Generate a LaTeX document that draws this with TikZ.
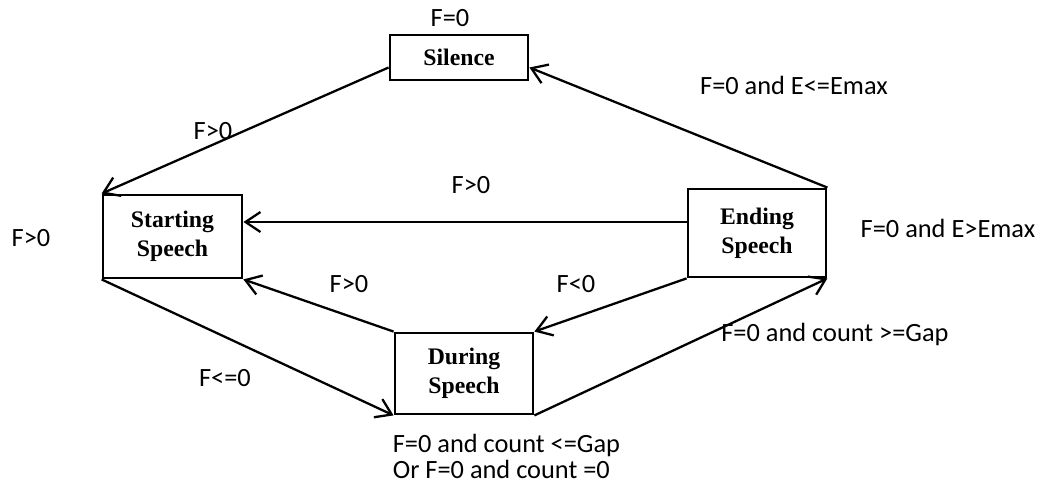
\documentclass[tikz,border=0pt]{standalone}
\usepackage{fontspec}
\setmainfont{Carlito}
\newfontfamily\statefont{Liberation Serif}
\usetikzlibrary{arrows.meta}
\begin{document}
\begin{tikzpicture}[state/.style={draw,line width=1.6pt,minimum width=2.76cm,font=\statefont\bfseries\fontsize{13.5}{16.5}\selectfont,align=center,inner sep=0pt},
arr/.style={line width=1.3pt,-{Straight Barb[length=3mm,width=4mm,line width=1.3pt]}},
lbl/.style={font=\fontsize{15}{18}\selectfont,inner sep=0pt}]
\useasboundingbox (0,0) rectangle (20.86,9.76);
% states
\node[state,minimum height=0.9cm] (silence) at (9.18,8.61) {Silence};
\node[state,minimum width=2.78cm,minimum height=1.66cm] (starting) at (3.45,5.03) {Starting\\Speech};
\node[state,minimum height=1.76cm] (ending) at (15.14,5.10) {Ending\\Speech};
\node[state,minimum height=1.62cm] (during) at (9.28,2.29) {During\\Speech};
% transitions
\draw[arr] ([yshift=-2mm]silence.west) -- (starting.north west);
\draw[arr] (ending.north east) -- ([yshift=-2mm]silence.east);
\draw[arr] ([yshift=2.2mm]ending.west) -- ([yshift=2.2mm]ending.west -| starting.east);
\draw[arr] (during.north west) -- (starting.south east);
\draw[arr] (starting.south west) -- (during.south west);
\draw[arr] (ending.south west) -- (during.north east);
\draw[arr] (during.south east) -- (ending.south east);
% conditions
\node[lbl] (c0) at (9.00,9.40) {F=0};
\node[lbl] (c1) at (4.26,7.14) {F>0};
\node[lbl] (c2) at (15.88,8.06) {F=0 and E<=Emax};
\node[lbl] (c3) at (9.42,6.06) {F>0};
\node[lbl] (c4) at (0.62,5.00) {F>0};
\node[lbl] (c5) at (18.96,5.20) {F=0 and E>Emax};
\node[lbl] (c6) at (6.98,4.08) {F>0};
\node[lbl] (c7) at (11.52,4.08) {F<0};
\node[lbl] (c8) at (4.50,2.20) {F<=0};
\node[lbl] (c9) at (16.70,3.08) {F=0 and count >=Gap};
\node[lbl,align=left,anchor=west] (c10) at (7.85,0.63) {F=0 and count <=Gap\\[-3pt]Or F=0 and count =0};
\end{tikzpicture}
\end{document}
